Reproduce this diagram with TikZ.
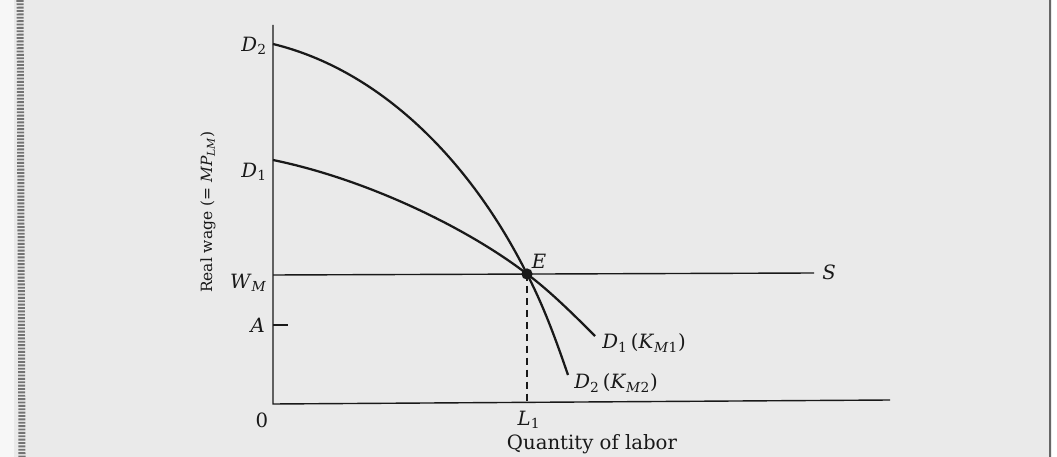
\documentclass[tikz,border=0pt]{standalone}
\usepackage{fontspec}
\setmainfont{DejaVu Serif}
\definecolor{pagebg}{RGB}{234,234,234}
\definecolor{ink}{RGB}{25,25,25}
\tikzset{
  axisline/.style={draw=ink, line width=1.0pt},
  curveline/.style={draw=ink, line width=1.6pt},
  dashline/.style={draw=ink, line width=0.9pt, dash pattern=on 5pt off 3.5pt},
  lbl/.style={inner sep=0pt, text=ink, font=\fontsize{14}{16}\selectfont},
  ylbl/.style={inner sep=0pt, text=ink, font=\fontsize{11}{13}\selectfont},
}
\begin{document}
\begin{tikzpicture}[x=0.025cm, y=-0.025cm]
\useasboundingbox (0,0) rectangle (1057,457);
\fill[pagebg] (0,0) rectangle (1057,457);
\fill[white!60!pagebg] (0,0) rectangle (14,457);
\draw[gray!90!black, line width=5pt, dash pattern=on 1.3pt off 1.1pt] (20,0) -- (22,457);
\draw[gray!80!black, line width=2pt] (1050,0) -- (1050,457);
\fill[white] (1052,0) rectangle (1057,457);

% key points
\coordinate (top) at (273,25);
\coordinate (O) at (273,404);
\coordinate (xend) at (890,400);
\coordinate (D2s) at (273,44);
\coordinate (D1s) at (273,160);
\coordinate (WMs) at (273,275);
\coordinate (Wend) at (814,273);
\coordinate (Ea) at (273,325);
\coordinate (Eb) at (288,325);
\coordinate (D1e) at (595,336);
\coordinate (D2e) at (568,375);
\coordinate (L1b) at (527,402);
\node[circle, fill=ink, inner sep=0pt, minimum size=8pt] (E) at (527,274) {};

% axes
\draw[axisline] (top) -- (O) -- (xend);
% supply line
\draw[axisline] (WMs) -- (Wend);
% tick A
\draw[axisline] (Ea) -- (Eb);
% dashed L1
\draw[dashline] (E.center) -- (L1b);
% demand curves
\draw[curveline] (D2s) .. controls (380,70) and (470,160) .. (E.center)
  .. controls (544,307) and (556,340) .. (D2e);
\draw[curveline] (D1s) .. controls (370,180) and (470,230) .. (E.center)
  .. controls (550,291) and (575,316) .. (D1e);

% labels
\node[lbl, anchor=east] (lD2) at (267,46) {\textit{D}\textsubscript{2}};
\node[lbl, anchor=east] (lD1) at (267,172) {\textit{D}\textsubscript{1}};
\node[lbl, anchor=east] (lWM) at (267,283) {\textit{W}\textsubscript{\textit{M}}};
\node[lbl, anchor=east] (lA) at (265,325) {\textit{A}};
\node[lbl] (l0) at (262,420) {0};
\node[lbl] (lL1) at (529,420) {\textit{L}\textsubscript{1}};
\node[lbl] (lE) at (539,261) {\textit{E}};
\node[lbl, anchor=west] (lS) at (822,272) {\textit{S}};
\node[lbl, anchor=west] (lD1K) at (602,343) {\textit{D}\textsubscript{1}\,(\textit{K}\textsubscript{\textit{M}1})};
\node[lbl, anchor=west] (lD2K) at (574,383) {\textit{D}\textsubscript{2}\,(\textit{K}\textsubscript{\textit{M}2})};
\node[lbl] (lQ) at (592,444) {Quantity of labor};
\node[ylbl, rotate=90] (lY) at (208,212) {Real wage (= \textit{MP}\textsubscript{\textit{LM}})};
\end{tikzpicture}
\end{document}
